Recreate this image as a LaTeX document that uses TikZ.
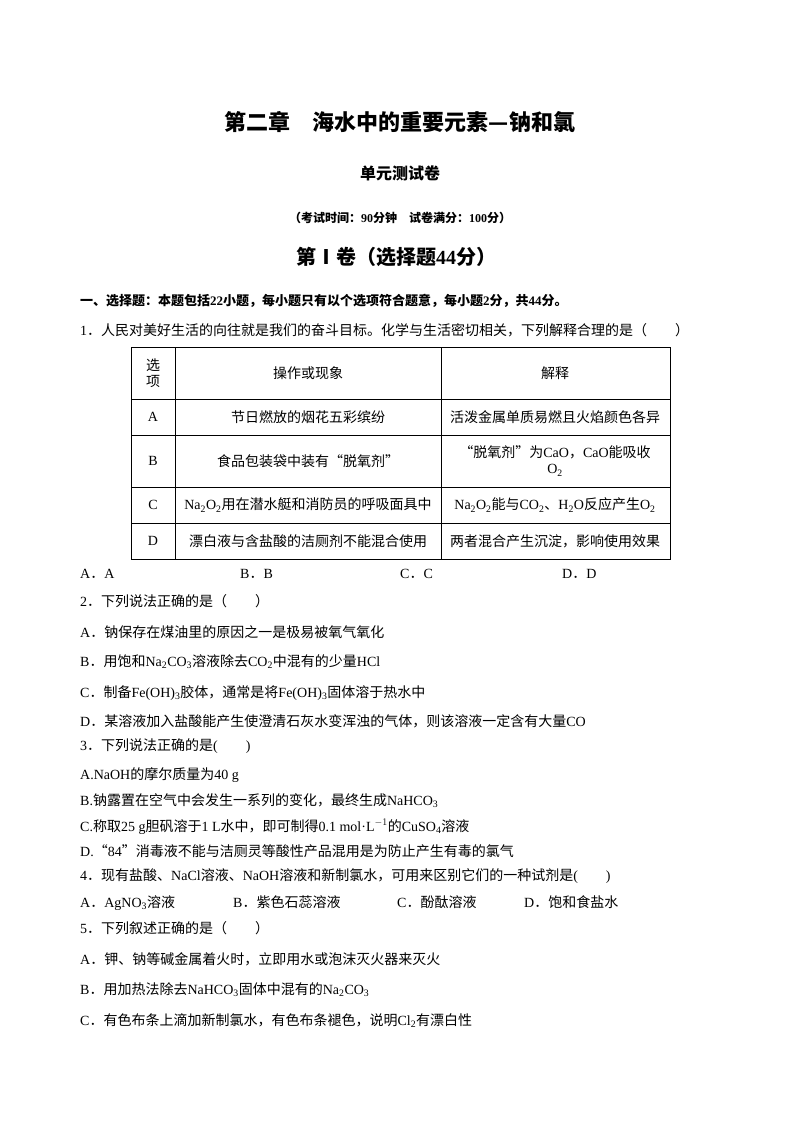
\documentclass[tikz,border=0pt]{standalone}
\usepackage{fontspec}
\setmainfont{Liberation Serif}
\newfontfamily\cjkf{Noto Sans CJK SC}
\newfontfamily\latf{Liberation Serif}
\newXeTeXintercharclass\cjkclass
\newcount\cc
\def\setrange#1#2{\cc=#1\relax\loop\XeTeXcharclass\cc=\cjkclass\advance\cc by 1\relax\ifnum\cc<#2\repeat}
\setrange{"4E00}{"A000}
\setrange{"3000}{"3040}
\setrange{"FF00}{"FFF0}
\XeTeXcharclass"201C=\cjkclass
\XeTeXcharclass"201D=\cjkclass
\XeTeXcharclass"2014=\cjkclass
\XeTeXcharclass"2160=\cjkclass
\XeTeXinterchartoks 0 \cjkclass = {\cjkf}
\XeTeXinterchartoks 4095 \cjkclass = {\cjkf}
\XeTeXinterchartoks \cjkclass 0 = {\latf}
\newcommand\sbs[1]{\textsubscript{#1}}
\begin{document}
\begin{tikzpicture}[x=1pt,y=-1pt,
  txt/.style={anchor=base west,inner sep=0pt,font=\fontsize{14}{16}\selectfont},
  ctr/.style={anchor=center,inner sep=0pt,font=\fontsize{14}{16}\selectfont,align=center},
  tline/.style={line width=0.8pt}]
\XeTeXinterchartokenstate=1
\useasboundingbox[fill=white] (0,0) rectangle (800,1132);
\node[anchor=base,inner sep=0pt,font=\fontsize{22}{26}\selectfont\bfseries] (t1) at (400,130) {第二章　海水中的重要元素—钠和氯};
\node[anchor=base,inner sep=0pt,font=\fontsize{16}{18}\selectfont\bfseries] (t2) at (400,179) {单元测试卷};
\node[anchor=base,inner sep=0pt,font=\fontsize{12}{14}\selectfont\bfseries] (t3) at (400,222) {（考试时间：90分钟　试卷满分：100分）};
\node[anchor=base,inner sep=0pt,font=\fontsize{20}{24}\selectfont\bfseries] (t4) at (396,264) {第Ⅰ卷（选择题44分）};
\node[txt,font=\fontsize{13}{15}\selectfont\bfseries] (s1) at (80,305) {一、选择题：本题包括22小题，每小题只有以个选项符合题意，每小题2分，共44分。};
\node[txt] (q1) at (80,335) {1．人民对美好生活的向往就是我们的奋斗目标。化学与生活密切相关，下列解释合理的是（　　）};
% table
\draw[tline] (131,347) rectangle (670,559);
\foreach \yy in {399,435,487,523} \draw[tline] (131,\yy) -- (670,\yy);
\draw[tline] (175,347) -- (175,559);
\draw[tline] (441,347) -- (441,559);
\node[ctr] (h1) at (153,373) {选\\项};
\node[ctr] (h2) at (308,373) {操作或现象};
\node[ctr] (h3) at (555,373) {解释};
\node[ctr] (a1) at (153,417) {A};
\node[ctr] (a2) at (308,417) {节日燃放的烟花五彩缤纷};
\node[ctr] (a3) at (555,417) {活泼金属单质易燃且火焰颜色各异};
\node[ctr] (b1) at (153,461) {B};
\node[ctr] (b2) at (308,461) {食品包装袋中装有“脱氧剂”};
\node[ctr] (b3) at (555,461) {“脱氧剂”为CaO，CaO能吸收\\O\sbs{2}};
\node[ctr] (c1) at (153,505) {C};
\node[ctr] (c2) at (308,505) {Na\sbs{2}O\sbs{2}用在潜水艇和消防员的呼吸面具中};
\node[ctr] (c3) at (555,505) {Na\sbs{2}O\sbs{2}能与CO\sbs{2}、H\sbs{2}O反应产生O\sbs{2}};
\node[ctr] (d1) at (153,541) {D};
\node[ctr] (d2) at (308,541) {漂白液与含盐酸的洁厕剂不能混合使用};
\node[ctr] (d3) at (555,541) {两者混合产生沉淀，影响使用效果};
\node[txt] (o1a) at (80,578) {A．A};
\node[txt] (o1b) at (240,578) {B．B};
\node[txt] (o1c) at (400,578) {C．C};
\node[txt] (o1d) at (562,578) {D．D};
% Q2
\node[txt] (q2) at (80,606) {2．下列说法正确的是（　　）};
\node[txt] (q2a) at (80,637) {A．钠保存在煤油里的原因之一是极易被氧气氧化};
\node[txt] (q2b) at (80,666) {B．用饱和Na\sbs{2}CO\sbs{3}溶液除去CO\sbs{2}中混有的少量HCl};
\node[txt] (q2c) at (80,697) {C．制备Fe(OH)\sbs{3}胶体，通常是将Fe(OH)\sbs{3}固体溶于热水中};
\node[txt] (q2d) at (80,726) {D．某溶液加入盐酸能产生使澄清石灰水变浑浊的气体，则该溶液一定含有大量CO};
% Q3
\node[txt] (q3) at (80,750) {3．下列说法正确的是(　　)};
\node[txt] (q3a) at (80,779) {A.NaOH的摩尔质量为40 g};
\node[txt] (q3b) at (80,805) {B.钠露置在空气中会发生一系列的变化，最终生成NaHCO\sbs{3}};
\node[txt] (q3c) at (80,831) {C.称取25 g胆矾溶于1 L水中，即可制得0.1 mol·L$^{-1}$的CuSO\sbs{4}溶液};
\node[txt] (q3d) at (80,856) {D.“84”消毒液不能与洁厕灵等酸性产品混用是为防止产生有毒的氯气};
% Q4
\node[txt] (q4) at (80,880) {4．现有盐酸、NaCl溶液、NaOH溶液和新制氯水，可用来区别它们的一种试剂是(　　)};
\node[txt] (q4a) at (80,907) {A．AgNO\sbs{3}溶液};
\node[txt] (q4b) at (233,907) {B．紫色石蕊溶液};
\node[txt] (q4c) at (397,907) {C．酚酞溶液};
\node[txt] (q4d) at (524,907) {D．饱和食盐水};
% Q5
\node[txt] (q5) at (80,933) {5．下列叙述正确的是（　　）};
\node[txt] (q5a) at (80,964) {A．钾、钠等碱金属着火时，立即用水或泡沫灭火器来灭火};
\node[txt] (q5b) at (80,994) {B．用加热法除去NaHCO\sbs{3}固体中混有的Na\sbs{2}CO\sbs{3}};
\node[txt] (q5c) at (80,1025) {C．有色布条上滴加新制氯水，有色布条褪色，说明Cl\sbs{2}有漂白性};
\end{tikzpicture}
\end{document}
